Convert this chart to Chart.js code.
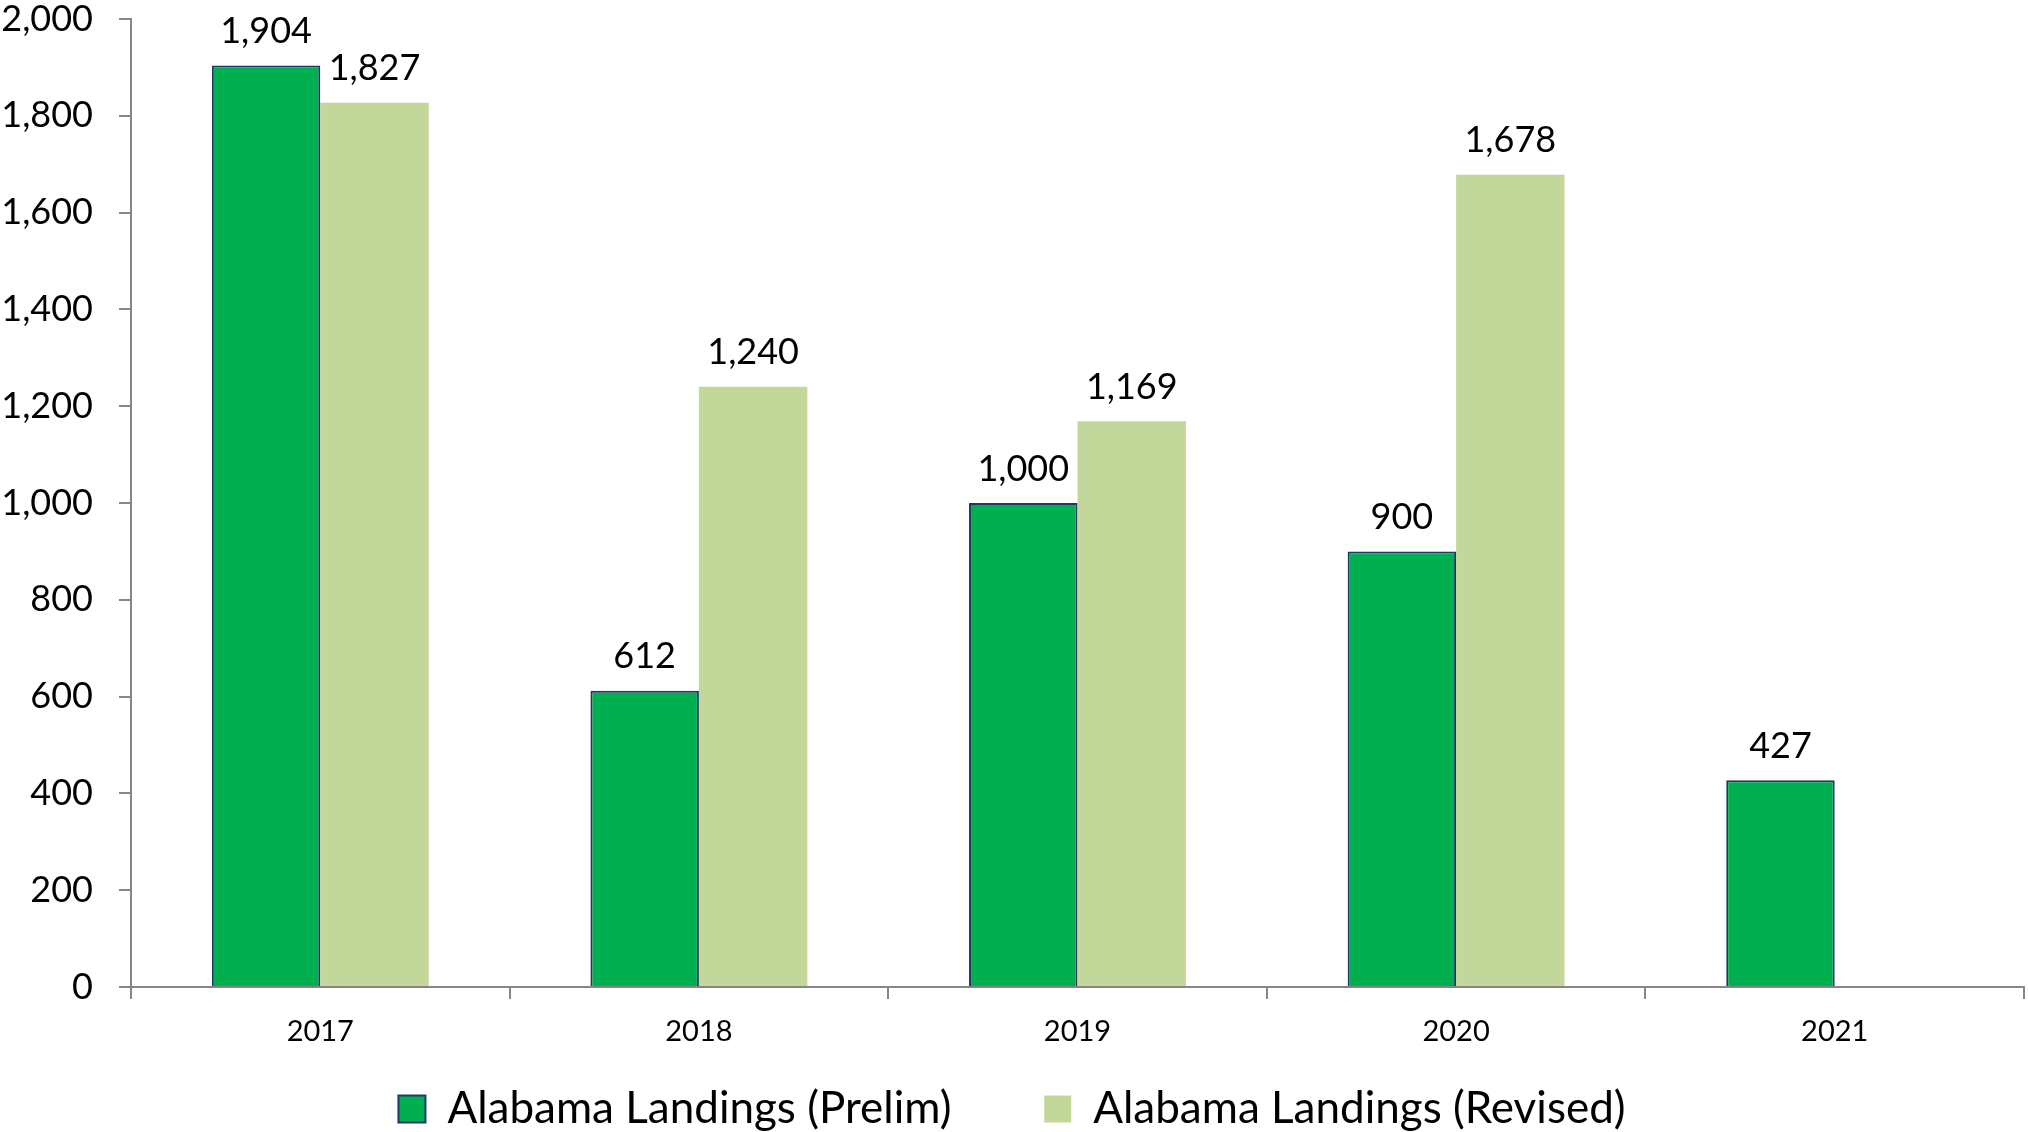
<!DOCTYPE html>
<html>
<head>
<meta charset="utf-8">
<script src="https://cdn.jsdelivr.net/npm/chart.js@4.4.0/dist/chart.umd.min.js"></script>
<style>
    html, body { margin: 0; padding: 0; background: #fff; }
    #wrap { width: 2028px; height: 1132px; }
</style>
</head>
<body>
<div id="wrap"><canvas id="barChart"></canvas></div>
<script>
// 数据
const years = ["2017", "2018", "2019", "2020", "2021"];
const prelim = [1904, 612, 1000, 900, 427];
const revised = [1827, 1240, 1169, 1678, null];
const yTicks = [0, 200, 400, 600, 800, 1000, 1200, 1400, 1600, 1800, 2000];

const axisGrey = '#868686';
const fontFamily = 'Lato, "Open Sans", sans-serif';
const plotBottom = 987;
const padBottom = -9;

// 柱子上方的数值
const valueLabels = {
    id: 'valueLabels',
    afterDatasetsDraw(chart) {
        const ctx = chart.ctx;
        ctx.save();
        ctx.font = `36px ${fontFamily}`;
        ctx.fillStyle = '#000';
        ctx.textAlign = 'center';
        ctx.textBaseline = 'middle';
        chart.data.datasets.forEach((ds, i) => {
            chart.getDatasetMeta(i).data.forEach((bar, j) => {
                const v = ds.data[j];
                if (v === null || v === undefined) return;
                ctx.fillText(v.toLocaleString('en-US'), bar.x, bar.y - 34);
            });
        });
        ctx.restore();
    }
};

window.onload = () => {
    const ctxBar = document.getElementById('barChart').getContext('2d');
    new Chart(ctxBar, {
        type: 'bar',
        data: {
            labels: years,
            datasets: [{
                label: 'Alabama Landings (Prelim)',
                data: prelim,
                backgroundColor: '#00B050',
                borderColor: '#1F3864',
                borderWidth: 2,
                categoryPercentage: 0.573,
                barPercentage: 1.0
            }, {
                label: 'Alabama Landings (Revised)',
                data: revised,
                backgroundColor: '#C4D79B',
                borderColor: '#C4D79B',
                borderWidth: 0,
                categoryPercentage: 0.573,
                barPercentage: 1.0
            }]
        },
        options: {
            responsive: true,
            maintainAspectRatio: false,
            animation: false,
            layout: { padding: { top: 19, right: 4, left: 0, bottom: padBottom } },
            plugins: {
                tooltip: { enabled: false },
                legend: {
                    position: 'bottom',
                    labels: {
                        color: '#000',
                        font: { family: fontFamily, size: 44 },
                        boxWidth: 27,
                        boxHeight: 27,
                        padding: 14,
                        // 图例项之间留更宽的空隙
                        generateLabels: (chart) => {
                            const items = Chart.defaults.plugins.legend.labels.generateLabels(chart);
                            items[0].text += '\u00A0'.repeat(7);
                            return items;
                        }
                    }
                }
            },
            scales: {
                x: {
                    afterFit: (axis) => {
                        axis.height = 1132 - plotBottom - axis.chart.legend.height - padBottom;
                    },
                    ticks: {
                        color: '#000',
                        font: { family: fontFamily, size: 29 },
                        padding: 15
                    },
                    grid: {
                        display: true,
                        offset: true,
                        drawOnChartArea: false,
                        tickLength: 12,
                        color: axisGrey,
                        lineWidth: 2
                    },
                    border: { color: axisGrey, width: 2 }
                },
                y: {
                    min: 0,
                    max: 2000,
                    afterBuildTicks: (axis) => {
                        axis.ticks = yTicks.map(v => ({ value: v }));
                    },
                    afterFit: (axis) => {
                        axis.width = 131;
                        axis.paddingTop = 0;
                        axis.paddingBottom = 0;
                    },
                    ticks: {
                        color: '#000',
                        font: { family: fontFamily, size: 36 },
                        padding: 26,
                        callback: (v) => v.toLocaleString('en-US')
                    },
                    grid: {
                        display: true,
                        drawOnChartArea: false,
                        tickLength: 12,
                        color: axisGrey,
                        lineWidth: 2
                    },
                    border: { color: axisGrey, width: 2 }
                }
            }
        },
        plugins: [valueLabels]
    });
};
</script>
</body>
</html>
